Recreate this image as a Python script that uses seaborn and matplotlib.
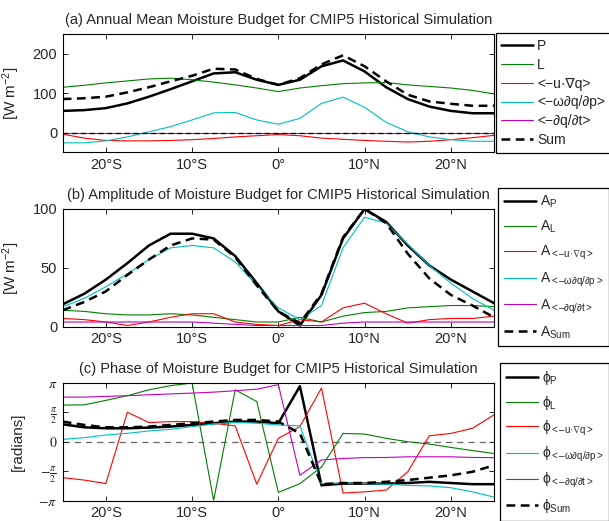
import numpy as np
import matplotlib
matplotlib.use("Agg")
import matplotlib.pyplot as plt
import seaborn as sns

sns.set_style("ticks")
plt.rcParams["font.family"] = ["Liberation Sans", "DejaVu Sans"]
plt.rcParams["mathtext.fontset"] = "custom"
plt.rcParams["mathtext.rm"] = "Liberation Sans"
plt.rcParams["mathtext.it"] = "Liberation Sans:italic"
plt.rcParams["mathtext.sf"] = "Liberation Sans"
plt.rcParams["xtick.direction"] = "in"
plt.rcParams["ytick.direction"] = "in"
plt.rcParams["xtick.top"] = True
plt.rcParams["ytick.right"] = True
plt.rcParams["axes.edgecolor"] = "black"
plt.rcParams["axes.linewidth"] = 0.8

# latitude grid (deg, negative = south)
lat = [-25, -22.5, -20, -17.5, -15, -12.5, -10, -7.5, -5, -2.5, 0,
       2.5, 5, 7.5, 10, 12.5, 15, 17.5, 20, 22.5, 25]
xtick_pos = [-20, -10, 0, 10, 20]
xtick_lab = ["20°S", "10°S", "0°", "10°N", "20°N"]

# (a) annual mean, W m-2
mean_P = [55, 57, 62, 74, 91, 110, 130, 150, 153, 134, 121,
          134, 168, 183, 155, 115, 85, 66, 55, 49, 49]
mean_L = [115, 120, 126, 131, 136, 138, 134, 128, 121, 113, 104,
          113, 119, 124, 126, 127, 121, 117, 113, 107, 98]
mean_adv = [-4, -14, -20, -21, -21, -20, -18, -15, -11, -8, -5,
            -8, -14, -17, -20, -22, -24, -22, -18, -13, -7]
mean_omega = [-26, -26, -21, -11, 2, 15, 32, 50, 51, 32, 21,
              36, 74, 90, 64, 26, 2, -11, -18, -22, -22]
mean_dqdt = [0] * 21
mean_sum = [85, 87, 91, 102, 115, 130, 144, 162, 160, 136, 121,
            138, 173, 196, 168, 130, 96, 79, 73, 68, 68]

# (b) amplitude, W m-2
amp_P = [19, 28, 40, 54, 69, 79, 79, 75, 60, 37, 13,
         1, 27, 75, 100, 89, 69, 52, 40, 30, 20]
amp_L = [14, 13, 11, 10, 10, 11, 10, 8, 6, 4, 4,
         8, 4, 9, 12, 13, 16, 17, 18, 18, 17]
amp_adv = [7, 6, 4, 1, 4, 8, 11, 11, 4, 2, 1,
           6, 4, 16, 20, 11, 3, 6, 7, 7, 9]
amp_omega = [17, 24, 34, 45, 57, 67, 69, 67, 55, 35, 16,
             6, 18, 67, 93, 88, 70, 52, 37, 24, 14]
amp_dqdt = [4, 4, 4, 4, 4, 4, 4, 3, 2, 1, 1,
            1, 1, 3, 4, 4, 4, 4, 4, 4, 4]
amp_sum = [14, 21, 30, 44, 57, 69, 75, 74, 59, 35, 13,
           3, 28, 76, 100, 88, 62, 41, 27, 18, 8]

# (c) phase, in units of pi
ph_P = [0.295, 0.244, 0.227, 0.227, 0.239, 0.256, 0.284, 0.313, 0.341, 0.341, 0.313,
        0.94, -0.739, -0.71, -0.71, -0.71, -0.70, -0.68, -0.70, -0.72, -0.72]
ph_L = [0.62, 0.625, 0.70, 0.78, 0.88, 0.95, 0.994, -0.994, 0.88, 0.68, -0.86,
        -0.71, -0.43, 0.14, 0.13, 0.057, 0.0, -0.04, -0.097, -0.15, -0.2]
ph_adv = [-0.61, -0.65, -0.71, 0.50, 0.324, 0.34, 0.34, 0.313, 0.267, -0.72, 0.057,
          0.256, 0.91, -0.87, -0.85, -0.82, -0.51, 0.10, 0.14, 0.227, 0.455]
ph_omega = [0.04, 0.068, 0.114, 0.142, 0.182, 0.21, 0.256, 0.30, 0.33, 0.313, 0.284,
            0.267, -0.71, -0.70, -0.71, -0.72, -0.74, -0.75, -0.78, -0.85, -0.94]
ph_dqdt = [0.756, 0.756, 0.767, 0.78, 0.795, 0.81, 0.824, 0.84, 0.864, 0.89, 0.966,
           -0.57, -0.31, -0.284, -0.27, -0.267, -0.256, -0.256, -0.256, -0.267, -0.27]
ph_sum = [0.341, 0.284, 0.244, 0.244, 0.256, 0.284, 0.313, 0.341, 0.369, 0.369, 0.341,
          0.14, -0.72, -0.70, -0.70, -0.68, -0.65, -0.61, -0.57, -0.51, -0.40]

names_a = ["P", "L", "<−u·∇q>", "<−ω∂q/∂p>", "<−∂q/∂t>", "Sum"]
subs = ["P", "L", "<–u·∇q>", "<–ω∂q/∂p>", "<–∂q/∂t>", "Sum"]
names_b = ["A$_{\\mathregular{%s}}$" % s for s in subs]
names_c = ["ϕ$_{\\mathregular{%s}}$" % s for s in subs]

colors = ["black", "#008000", "#ff0000", "#00bfbf", "#bf00bf", "black"]
widths = [1.8, 0.8, 0.8, 0.8, 0.8, 1.8]
styles = ["-", "-", "-", "-", "-", (0, (3.5, 2.2))]

fig = plt.figure(figsize=(6.09, 5.21), dpi=100)
W, H = 609.0, 521.0
left, right = 62.7 / W, 494.0 / W
ax_a = fig.add_axes([left, 1 - 152.3 / H, right - left, 118.3 / H])
ax_b = fig.add_axes([left, 1 - 326.7 / H, right - left, 117.7 / H])
ax_c = fig.add_axes([left, 1 - 500.7 / H, right - left, 118.0 / H])


def draw(ax, series, labels):
    for vals, lab, c, lw, ls in zip(series, labels, colors, widths, styles):
        sns.lineplot(x=lat, y=vals, color=c, linewidth=lw, linestyle=ls,
                     label=lab, ax=ax)
    ax.set_xlim(-25, 25)
    ax.set_xticks(xtick_pos)
    ax.set_xticklabels(xtick_lab, fontsize=10.5)
    ax.tick_params(length=3.5, width=0.7, labelsize=10.5, pad=4)


draw(ax_a, [mean_P, mean_L, mean_adv, mean_omega, mean_dqdt, mean_sum], names_a)
ax_a.axhline(0, color="black", lw=0.9, ls=(0, (4, 3)))
ax_a.set_ylim(-50, 250)
ax_a.set_yticks([0, 100, 200])
ax_a.set_ylabel("[W m$^{-2}$]", fontsize=11)
ax_a.yaxis.set_label_coords(-0.094, 0.5)
ax_a.set_title("(a) Annual Mean Moisture Budget for CMIP5 Historical Simulation",
               fontsize=10.5, pad=7)

draw(ax_b, [amp_P, amp_L, amp_adv, amp_omega, amp_dqdt, amp_sum], names_b)
ax_b.set_ylim(0, 100)
ax_b.set_yticks([0, 50, 100])
ax_b.set_ylabel("[W m$^{-2}$]", fontsize=11)
ax_b.yaxis.set_label_coords(-0.094, 0.5)
ax_b.set_title("(b) Amplitude of Moisture Budget for CMIP5 Historical Simulation",
               fontsize=10.5, pad=7)

phases = [np.array(p) * np.pi for p in [ph_P, ph_L, ph_adv, ph_omega, ph_dqdt, ph_sum]]
draw(ax_c, phases, names_c)
ax_c.axhline(0, color="0.4", lw=0.9, ls=(0, (5, 4)), zorder=0)
ax_c.set_ylim(-np.pi, np.pi)
ax_c.set_yticks([-np.pi, -np.pi / 2, 0, np.pi / 2, np.pi])
ax_c.set_yticklabels([r"$-\pi$", r"$-\frac{\pi}{2}$", r"$0$", r"$\frac{\pi}{2}$", r"$\pi$"])
for t in ax_c.get_yticklabels():
    t.set_math_fontfamily("stix")
    t.set_fontsize(10)
ax_c.set_ylabel("[radians]", fontsize=11)
ax_c.yaxis.set_label_coords(-0.087, 0.5)
ax_c.set_title("(c) Phase of Moisture Budget for CMIP5 Historical Simulation",
               fontsize=10.5, pad=7)

for ax, x0, y0, sp in [(ax_a, 495.7, 33.3, 0.35), (ax_b, 498.3, 188.0, 0.62),
                       (ax_c, 500.0, 363.0, 0.5)]:
    leg = ax.legend(loc="upper left", bbox_to_anchor=(x0 / W, 1 - y0 / H),
                    bbox_transform=fig.transFigure, fontsize=10, frameon=True,
                    fancybox=False, framealpha=1, edgecolor="black",
                    handlelength=2.3, handletextpad=0.3, labelspacing=sp,
                    borderpad=0.4, borderaxespad=0)
    leg.get_frame().set_linewidth(0.9)

fig.savefig("out.png", dpi=100)
